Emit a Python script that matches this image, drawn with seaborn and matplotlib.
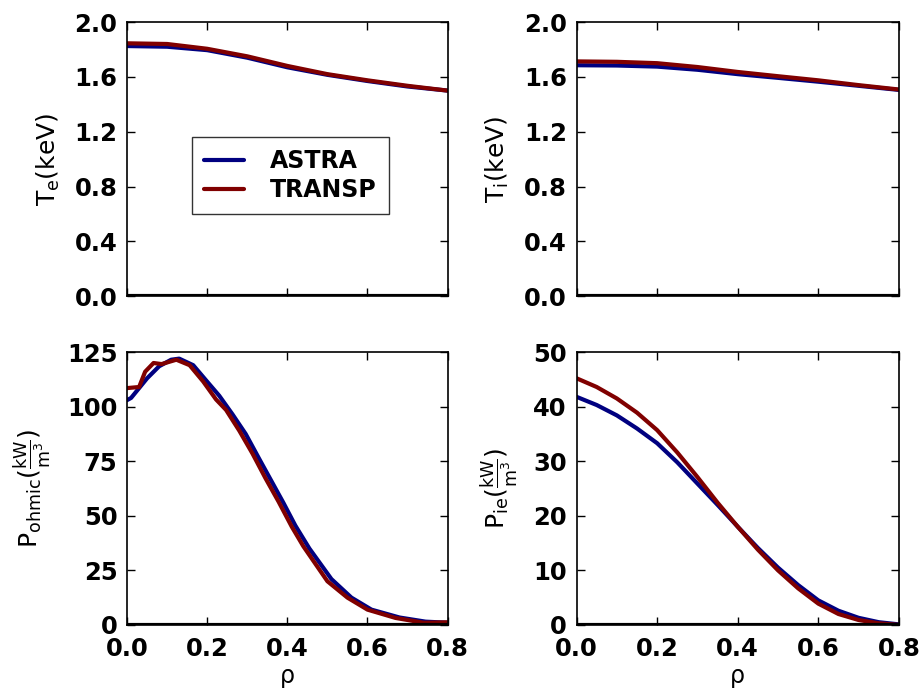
import matplotlib
matplotlib.use("Agg")
import matplotlib.pyplot as plt
import matplotlib.ticker as ticker
import seaborn as sns
import pandas as pd

# radial grid for temperatures
rho_t = [0.0, 0.1, 0.2, 0.3, 0.4, 0.5, 0.6, 0.7, 0.8]
te_astra = [1.825, 1.82, 1.795, 1.74, 1.67, 1.615, 1.57, 1.53, 1.50]
te_transp = [1.845, 1.84, 1.805, 1.75, 1.68, 1.62, 1.575, 1.535, 1.50]
ti_astra = [1.685, 1.683, 1.675, 1.652, 1.62, 1.593, 1.565, 1.535, 1.505]
ti_transp = [1.713, 1.71, 1.70, 1.672, 1.636, 1.605, 1.575, 1.54, 1.508]

# ohmic power
rho_oh_astra = [0.0, 0.01, 0.05, 0.08, 0.11, 0.13, 0.165, 0.195, 0.23, 0.263, 0.296,
                0.33, 0.36, 0.39, 0.42, 0.455, 0.51, 0.56, 0.61, 0.68, 0.745, 0.8]
poh_astra = [103.0, 104.0, 113.0, 118.5, 121.5, 122.0, 119.0, 112.5, 105.0, 96.5, 87.5,
             76.0, 66.0, 56.0, 45.5, 35.0, 21.0, 12.5, 7.0, 3.4, 1.5, 1.0]
rho_oh_transp = [0.0, 0.03, 0.045, 0.066, 0.086, 0.123, 0.156, 0.19, 0.222, 0.247, 0.28,
                 0.313, 0.346, 0.378, 0.411, 0.44, 0.5, 0.55, 0.6, 0.67, 0.74, 0.8]
poh_transp = [108.5, 109.0, 116.0, 120.0, 119.5, 121.5, 119.0, 111.5, 103.3, 98.5, 89.0,
              78.5, 67.0, 56.5, 45.0, 36.0, 20.0, 12.5, 7.0, 3.2, 1.0, 1.2]

# ion-electron exchange
rho_ie = [0.0, 0.05, 0.1, 0.15, 0.2, 0.25, 0.3, 0.35, 0.4, 0.45, 0.5, 0.55, 0.6,
          0.65, 0.7, 0.75, 0.8]
pie_astra = [41.8, 40.3, 38.4, 36.0, 33.3, 29.8, 25.9, 22.0, 18.0, 14.1, 10.5, 7.3,
             4.5, 2.6, 1.3, 0.5, 0.1]
pie_transp = [45.2, 43.6, 41.5, 38.9, 35.7, 31.6, 27.1, 22.4, 18.0, 13.8, 10.0, 6.7,
              3.9, 2.0, 0.9, 0.3, 0.0]

codes = ["ASTRA", "TRANSP"]
colors = {"ASTRA": "#000080", "TRANSP": "#800000"}


def long_df(xa, ya, xt, yt):
    a = pd.DataFrame({"rho": xa, "val": ya, "code": "ASTRA"})
    t = pd.DataFrame({"rho": xt, "val": yt, "code": "TRANSP"})
    return pd.concat([a, t], ignore_index=True)


sns.set_style("ticks")
plt.rcParams["font.family"] = ["DejaVu Sans"]
plt.rcParams["mathtext.fontset"] = "dejavusans"
for key in ["text.color", "axes.labelcolor", "xtick.color", "ytick.color", "axes.edgecolor"]:
    plt.rcParams[key] = "black"

fig = plt.figure(figsize=(9.21, 6.89), dpi=100)
ax_te = fig.add_axes([0.138, 0.570, 0.348, 0.398])
ax_ti = fig.add_axes([0.626, 0.570, 0.350, 0.398])
ax_oh = fig.add_axes([0.138, 0.093, 0.348, 0.396])
ax_ie = fig.add_axes([0.626, 0.093, 0.350, 0.396])

panels = [
    (ax_te, long_df(rho_t, te_astra, rho_t, te_transp), (0, 2.0), [0, 0.4, 0.8, 1.2, 1.6, 2.0],
     r"T$_\mathrm{e}$(keV)", "%.1f"),
    (ax_ti, long_df(rho_t, ti_astra, rho_t, ti_transp), (0, 2.0), [0, 0.4, 0.8, 1.2, 1.6, 2.0],
     r"T$_\mathrm{i}$(keV)", "%.1f"),
    (ax_oh, long_df(rho_oh_astra, poh_astra, rho_oh_transp, poh_transp), (0, 125),
     [0, 25, 50, 75, 100, 125], r"P$_\mathrm{ohmic}$$(\frac{\mathrm{kW}}{\mathrm{m}^3})$", "%d"),
    (ax_ie, long_df(rho_ie, pie_astra, rho_ie, pie_transp), (0, 50),
     [0, 10, 20, 30, 40, 50], r"P$_\mathrm{ie}$$(\frac{\mathrm{kW}}{\mathrm{m}^3})$", "%d"),
]

for i, (ax, df, ylim, yticks, ylab, fmt) in enumerate(panels):
    sns.lineplot(data=df, x="rho", y="val", hue="code", hue_order=codes,
                 palette=colors, lw=3, ax=ax, legend=(i == 0), sort=False)
    ax.axhline(0, color="k", lw=3, zorder=5)
    ax.set_xlim(0, 0.8)
    ax.set_ylim(*ylim)
    ax.set_xticks([0, 0.2, 0.4, 0.6, 0.8])
    ax.set_yticks(yticks)
    ax.yaxis.set_major_formatter(ticker.FormatStrFormatter(fmt))
    ax.xaxis.set_major_formatter(ticker.FormatStrFormatter("%.1f"))
    ax.tick_params(direction="in", top=True, right=True, length=6, width=1,
                   labelsize=17.5, pad=7)
    ax.tick_params(axis="x", pad=9)
    for lbl in ax.get_xticklabels() + ax.get_yticklabels():
        lbl.set_fontweight("bold")
    for sp in ax.spines.values():
        sp.set_linewidth(1.2)
    ax.set_ylabel(ylab, fontsize=18, labelpad=9)
    if i < 2:
        ax.set_xlabel("")
        ax.tick_params(labelbottom=False)
    else:
        ax.set_xlabel("ρ", fontsize=17, labelpad=2)

leg = ax_te.legend(loc="center", bbox_to_anchor=(0.51, 0.44),
                   prop={"weight": "bold", "size": 17}, frameon=True, fancybox=False,
                   edgecolor="k", handlelength=1.7, handletextpad=1.1,
                   labelspacing=0.2, borderpad=0.5)
leg.get_frame().set_linewidth(1.0)
for line in leg.get_lines():
    line.set_linewidth(3)

fig.savefig("out.png", dpi=100)
